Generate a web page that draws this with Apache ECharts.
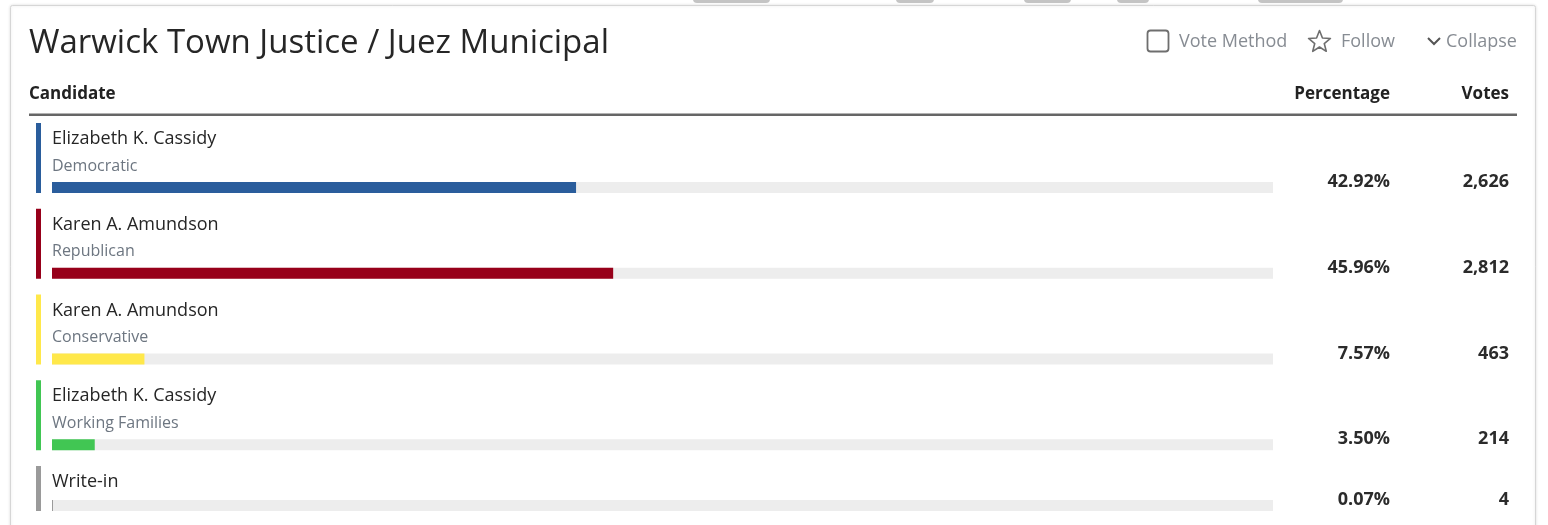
<!DOCTYPE html>
<html><head><meta charset="utf-8">
<script src="https://cdn.jsdelivr.net/npm/echarts@6/dist/echarts.min.js"></script>
<style>html,body{margin:0;padding:0;background:#fff}#c{width:1548px;height:525px}</style>
</head><body><div id="c"></div>
<script>
const title = 'Warwick Town Justice / Juez Municipal';
const headers = ['Candidate', 'Percentage', 'Votes'];
const candidates = ['Elizabeth K. Cassidy', 'Karen A. Amundson', 'Karen A. Amundson', 'Elizabeth K. Cassidy', 'Write-in'];
const parties = ['Democratic', 'Republican', 'Conservative', 'Working Families', ''];
const percentages = [42.92, 45.96, 7.57, 3.50, 0.07];
const votes = [2626, 2812, 463, 214, 4];
const partyColors = ['#2a5d9c', '#97001a', '#ffe84a', '#41c653', '#9a9a9a'];

const FONT = '"Open Sans", "Noto Sans", sans-serif';
const rowKeys = candidates.map((c, i) => c + ' | ' + (parties[i] || '—'));
const chart = echarts.init(document.getElementById('c'), null, {renderer: 'canvas'});

function starPoints(cx, cy, R, r) {
  const pts = [];
  for (let k = 0; k < 10; k++) {
    const a = -Math.PI / 2 + k * Math.PI / 5;
    const rad = k % 2 === 0 ? R : r;
    pts.push([cx + rad * Math.cos(a), cy + rad * Math.sin(a)]);
  }
  return pts;
}

const tabs = [[693, 77], [896, 38], [1024, 47], [1117, 32], [1258, 85]];

const option = {
  backgroundColor: '#ffffff',
  animation: false,
  grid: {left: 52, width: 1221, top: 117, height: 428.75, outerBoundsMode: 'none', containLabel: false},
  xAxis: {type: 'value', min: 0, max: 100, show: false},
  yAxis: {type: 'category', inverse: true, data: rowKeys, show: false},
  graphic: [
    ...tabs.map(t => ({type: 'rect', shape: {x: t[0], y: -6, width: t[1], height: 9, r: 4}, style: {fill: '#c4c4c4'}, z: 1})),
    {type: 'rect', shape: {x: 10.5, y: 5.5, width: 1525, height: 620, r: 2},
      style: {fill: '#ffffff', stroke: '#d6d6d6', lineWidth: 1, shadowBlur: 3, shadowColor: 'rgba(0,0,0,0.12)'}, z: 0},
    {type: 'text', x: 29, y: 44, style: {text: title, font: '400 33px ' + FONT, fill: '#262626', textVerticalAlign: 'middle'}, z: 5},
    {type: 'rect', shape: {x: 1147.5, y: 30.5, width: 21, height: 21, r: 3}, style: {fill: 'none', stroke: '#6e6e6e', lineWidth: 1.8}, z: 5},
    {type: 'text', x: 1179, y: 42, style: {text: 'Vote Method', font: '400 18px ' + FONT, fill: '#878c93', textVerticalAlign: 'middle'}, z: 5},
    {type: 'polygon', shape: {points: starPoints(1319.5, 42, 11.5, 5)}, style: {fill: 'none', stroke: '#6e6e6e', lineWidth: 1.6, lineJoin: 'round'}, z: 5},
    {type: 'text', x: 1341, y: 42, style: {text: 'Follow', font: '400 18px ' + FONT, fill: '#878c93', textVerticalAlign: 'middle'}, z: 5},
    {type: 'polyline', shape: {points: [[1428, 38], [1434, 44], [1440, 38]]}, style: {fill: 'none', stroke: '#555555', lineWidth: 2}, z: 5},
    {type: 'text', x: 1446, y: 42, style: {text: 'Collapse', font: '400 18px ' + FONT, fill: '#878c93', textVerticalAlign: 'middle'}, z: 5},
    {type: 'text', x: 29, y: 94, style: {text: headers[0], font: '700 17px ' + FONT, fill: '#222222', textVerticalAlign: 'middle'}, z: 5},
    {type: 'text', x: 1390, y: 94, style: {text: headers[1], font: '700 17px ' + FONT, fill: '#222222', textAlign: 'right', textVerticalAlign: 'middle'}, z: 5},
    {type: 'text', x: 1509, y: 94, style: {text: headers[2], font: '700 17px ' + FONT, fill: '#222222', textAlign: 'right', textVerticalAlign: 'middle'}, z: 5},
    {type: 'rect', shape: {x: 29, y: 113.5, width: 1488, height: 2.5}, style: {fill: '#666666'}, z: 5}
  ],
  series: [{
    type: 'custom',
    clip: false,
    z: 10,
    encode: {x: 0, y: 1},
    data: percentages.map((p, i) => [p, i]),
    renderItem: function (params, api) {
      const i = api.value(1);
      const pct = api.value(0);
      const start = api.coord([0, i]);
      const end = api.coord([100, i]);
      const fillEnd = api.coord([pct, i]);
      const band = api.size([0, 1])[1];
      const top = start[1] - band / 2;
      const hasParty = parties[i] !== '';
      const stripTop = top + 6;
      const stripBot = hasParty ? top + 76 : top + 51;
      const barH = 11;
      const barTop = stripBot - barH;
      const children = [
        {type: 'rect', shape: {x: 36, y: stripTop, width: 5, height: stripBot - stripTop}, style: {fill: partyColors[i]}},
        {type: 'text', x: start[0], y: top + 22, style: {text: candidates[i], font: '400 18px ' + FONT, fill: '#262626', textVerticalAlign: 'middle'}},
        {type: 'rect', shape: {x: start[0], y: barTop, width: end[0] - start[0], height: barH}, style: {fill: '#ededed'}},
        {type: 'rect', shape: {x: start[0], y: barTop, width: Math.max(1, fillEnd[0] - start[0]), height: barH}, style: {fill: partyColors[i]}},
        {type: 'text', x: 1390, y: barTop, style: {text: pct.toFixed(2) + '%', font: '700 18px ' + FONT, fill: '#2b2b2b', textAlign: 'right', textVerticalAlign: 'middle'}},
        {type: 'text', x: 1509, y: barTop, style: {text: votes[i].toLocaleString('en-US'), font: '700 18px ' + FONT, fill: '#2b2b2b', textAlign: 'right', textVerticalAlign: 'middle'}}
      ];
      if (hasParty) {
        children.push({type: 'text', x: start[0], y: top + 49, style: {text: parties[i], font: '400 16px ' + FONT, fill: '#6d7681', textVerticalAlign: 'middle'}});
      }
      return {type: 'group', children: children};
    }
  }]
};
chart.setOption(option);
</script>
</body></html>
